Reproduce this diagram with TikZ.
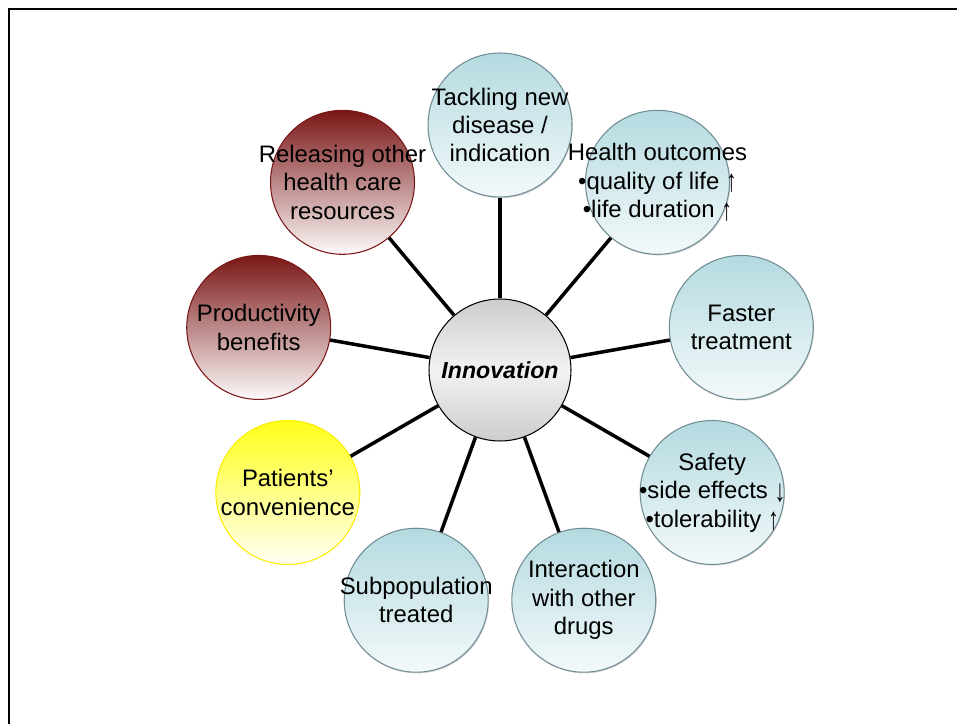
\documentclass[tikz,border=0pt]{standalone}
\usepackage{fontspec}
\setmainfont{Liberation Sans}
\usetikzlibrary{shadows}

\definecolor{tealtop}{RGB}{180,218,224}
\definecolor{tealbot}{RGB}{243,249,250}
\definecolor{tealrim}{RGB}{112,140,148}
\definecolor{wine}{RGB}{122,22,22}
\definecolor{winebot}{RGB}{253,250,250}
\definecolor{lemon}{RGB}{255,255,25}
\definecolor{lemonbot}{RGB}{255,255,244}
\definecolor{lemonrim}{RGB}{250,235,0}
\definecolor{hubgray}{RGB}{205,205,205}

% tall thin arrows after the bullet items
\newcommand{\arrup}{\raisebox{-0.2ex}{\scalebox{0.9}[1.3]{↑}}}
\newcommand{\arrdown}{\raisebox{-0.2ex}{\scalebox{0.9}[1.3]{↓}}}

\tikzset{
  bubble/.style={circle, minimum size=2.88cm, inner sep=0pt},
  cure/.style={bubble, draw=tealrim, line width=0.6pt,
    top color=tealtop, bottom color=tealbot,
    drop shadow={shadow xshift=0.5pt, shadow yshift=-0.7pt, opacity=0.3}},
  gain/.style={bubble, draw=wine, line width=0.6pt,
    top color=wine, bottom color=winebot},
  ease/.style={bubble, draw=lemonrim, line width=0.6pt,
    top color=lemon, bottom color=lemonbot},
  hub/.style={circle, minimum size=2.84cm, inner sep=0pt, draw=black,
    line width=0.6pt, top color=hubgray, bottom color=hubgray,
    middle color=gray!10, font=\fontsize{13.2}{16}\selectfont\bfseries\itshape},
  lbl/.style={align=center, inner sep=0pt, font=\fontsize{13.6}{16.2}\selectfont},
  spoke/.style={line width=2pt, black}
}

\begin{document}
\begin{tikzpicture}[x=0.02cm,y=0.02cm]
  \useasboundingbox (0,0) rectangle (957,724);
  % frame, open to the right and at the bottom
  \draw[line width=1.1pt] (9,0) -- (9,715) -- (957,715);
  \begin{scope}[shift={(500,354)}]
    \node[hub] (hub) at (0,0) {Innovation};
    \node[cure] (1) at (90:245) {};
    \node[cure] (2) at (50:245) {};
    \node[cure] (3) at (10:245) {};
    \node[cure] (4) at (-30:245) {};
    \node[cure] (5) at (-70:245) {};
    \node[cure] (6) at (-110:245) {};
    \node[ease] (7) at (-150:245) {};
    \node[gain] (8) at (170:245) {};
    \node[gain] (9) at (130:245) {};
    \begin{scope}[spoke]
      \draw (hub) to (1);
      \draw (hub) to (2);
      \draw (hub) to (3);
      \draw (hub) to (4);
      \draw (hub) to (5);
      \draw (hub) to (6);
      \draw (hub) to (7);
      \draw (hub) to (8);
      \draw (hub) to (9);
    \end{scope}
    % labels go on top of every bubble
    \node[lbl] (1t) at (1) {Tackling new\\disease /\\indication};
    \node[lbl] (2t) at (2) {Health outcomes\\•quality of life \arrup\\•life duration \arrup};
    \node[lbl] (3t) at (3) {Faster\\treatment};
    \node[lbl] (4t) at (4) {Safety\\•side effects \arrdown\\•tolerability \arrup};
    \node[lbl] (5t) at (5) {Interaction\\with other\\drugs};
    \node[lbl] (6t) at (6) {Subpopulation\\treated};
    \node[lbl] (7t) at (7) {Patients’\\convenience};
    \node[lbl] (8t) at (8) {Productivity\\benefits};
    \node[lbl] (9t) at (9) {Releasing other\\health care\\resources};
  \end{scope}
\end{tikzpicture}
\end{document}
